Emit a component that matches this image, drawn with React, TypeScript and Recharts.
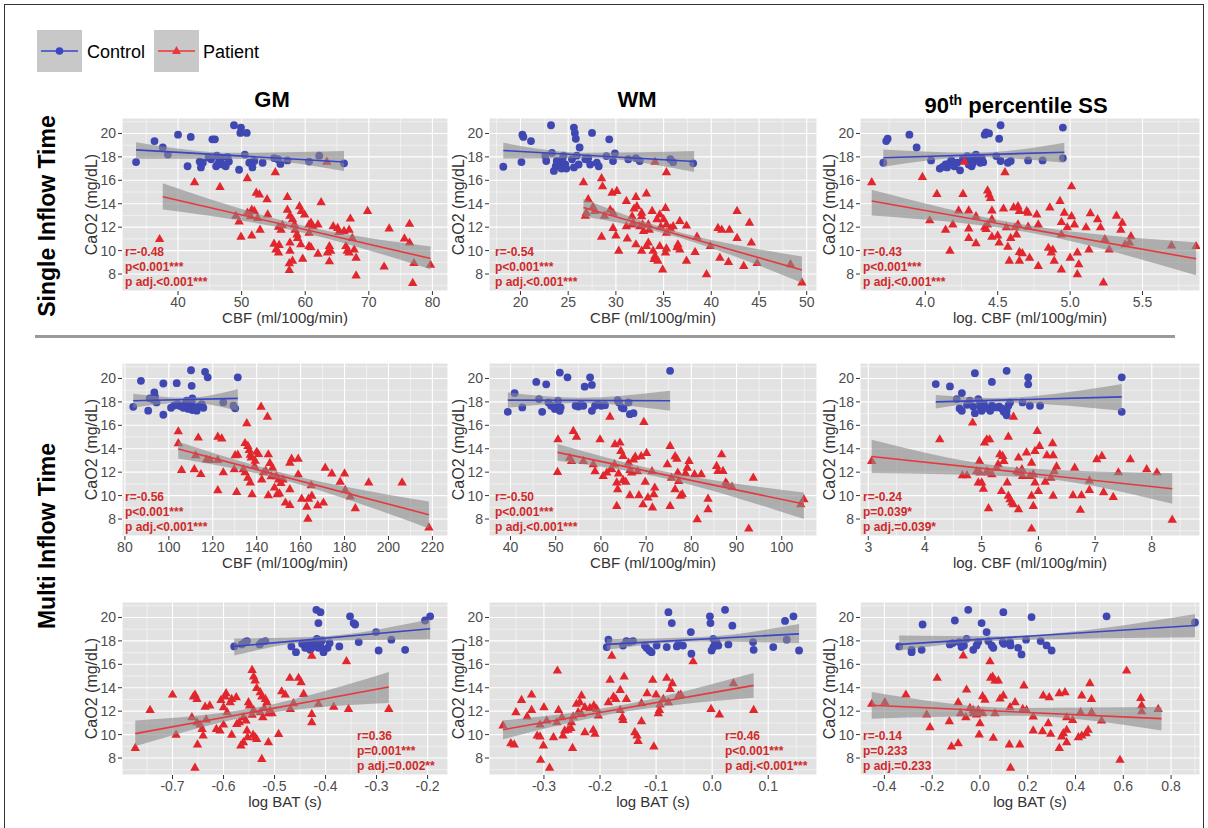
import { ComposedChart, Scatter, Line, Area, XAxis, YAxis, CartesianGrid, ReferenceLine } from 'recharts'

type Pt = [number, number]
type Band = [number, number, number]

const BLUE = '#3f47b3'
const RED = '#e2262d'
const BLUE_LINE = '#3a46c8'
const RED_LINE = '#e8383d'
const TXT_RED = '#cf2a2a'
const PANEL_BG = '#e2e2e2'
const PLOT_H = 173

const Y_DOMAIN: [number, number] = [6.55, 21.32]
const Y_TICKS = [8, 10, 12, 14, 16, 18, 20]
const Y_MINOR = [7, 9, 11, 13, 15, 17, 19, 21]

// ---- Single inflow time: GM
const gm1Ticks = [40, 50, 60, 70, 80]
const gm1Minor = [35, 45, 55, 65, 75]
const gm1Ctl: Pt[] = [[33.4,17.56],[36.3,19.35],[37.6,18.8],[38.4,18.2],[40.0,19.9],[42.0,19.7],[41.5,17.2],[43.4,17.6],[43.9,17.5],[43.6,17.1],[45.4,19.5],[45.8,19.5],[45.2,17.8],[46.1,18.1],[46.5,17.65],[46.0,17.2],[47.0,17.35],[47.5,17.2],[47.8,18.0],[48.8,20.7],[49.9,20.5],[49.8,20.05],[50.8,20.05],[49.6,16.9],[50.5,18.2],[51.2,17.5],[52.0,17.65],[51.7,17.1],[53.3,17.5],[55.1,17.9],[55.7,17.8],[56.1,17.4],[57.2,17.7],[60.6,17.6],[62.2,18.1],[66.1,17.45],[44.8,17.95],[46.8,17.9],[48.0,17.6],[46.3,17.4]]
const gm1Pat: Pt[] = [[37.1,11.0],[42.6,15.85],[46.6,15.45],[50.9,16.2],[55.3,16.7],[63.4,17.6],[52.3,14.95],[52.8,14.8],[54.0,14.4],[57.2,14.6],[62.5,14.15],[69.8,13.4],[49.1,13.0],[49.6,12.5],[50.9,13.25],[51.6,13.5],[52.0,13.4],[51.4,12.95],[52.5,12.8],[54.1,13.1],[55.8,12.05],[56.4,12.2],[56.2,11.8],[57.2,13.5],[57.6,13.0],[58.0,12.7],[58.3,12.25],[58.4,11.8],[58.7,11.4],[58.8,11.1],[59.1,13.8],[59.4,13.4],[59.9,13.1],[60.6,12.25],[60.9,12.4],[61.2,12.1],[62.0,12.25],[60.6,11.55],[64.4,12.1],[65.1,11.95],[65.3,11.6],[66.1,11.7],[66.9,11.8],[67.1,12.75],[67.4,11.1],[73.2,11.9],[75.6,11.05],[76.4,12.3],[76.4,10.7],[49.9,11.2],[51.6,11.3],[52.9,11.8],[55.1,10.6],[55.4,10.1],[55.8,9.85],[55.9,10.5],[57.6,10.0],[57.5,8.93],[58.0,9.15],[57.5,8.35],[57.6,10.7],[59.3,10.55],[59.6,9.33],[60.6,10.4],[60.9,10.3],[62.0,9.75],[63.8,10.4],[64.0,10.0],[63.5,9.85],[63.8,9.1],[66.4,10.4],[66.6,10.0],[66.9,9.85],[67.7,10.1],[68.0,9.4],[68.0,7.9],[72.4,8.65],[77.1,8.95],[76.9,7.25],[79.7,8.8]]
const gm1CtlFit: Pt[] = [[33.4, 18.6], [66.1, 17.56]]
const gm1CtlBand: Band[] = [[33.4, 17.84, 19.26], [49, 17.85, 18.35], [66.1, 16.8, 18.5]]
const gm1PatFit: Pt[] = [[37.6, 14.6], [79.7, 9.33]]
const gm1PatBand: Band[] = [[37.6, 13.5, 15.75], [58.5, 11.68, 12.28], [79.7, 8.4, 10.35]]
const gm1Stats = ['r=-0.48', 'p<0.001***', 'p adj.<0.001***']

// ---- Single inflow time: WM
const wm1Ticks = [20, 25, 30, 35, 40, 45, 50]
const wm1Minor = [17.5, 22.5, 27.5, 32.5, 37.5, 42.5, 47.5]
const wm1Ctl: Pt[] = [[18.2,17.16],[20.2,19.9],[20.3,19.7],[21.1,19.35],[20.1,17.56],[22.6,18.07],[22.7,17.65],[23.3,18.35],[23.2,20.7],[23.7,17.2],[23.8,17.65],[24.1,17.45],[24.4,17.8],[24.7,17.35],[24.5,18.1],[24.8,17.0],[23.5,16.8],[24.3,17.0],[25.4,17.8],[25.6,17.1],[25.9,18.1],[25.6,20.5],[25.7,20.05],[25.8,19.55],[26.2,18.8],[26.1,17.35],[26.8,17.8],[27.1,17.9],[27.3,17.35],[28.0,17.5],[28.2,17.2],[27.5,20.05],[29.0,18.07],[29.3,19.5],[29.7,17.65],[29.9,18.3],[31.3,17.8],[32.1,17.9],[32.5,17.65],[35.7,17.8],[36.0,17.55],[38.1,17.45]]
const wm1Pat: Pt[] = [[34.1,17.6],[35.3,16.7],[26.6,15.85],[28.5,16.2],[28.6,15.5],[29.6,14.95],[30.1,15.1],[27.1,14.4],[26.8,13.0],[26.9,13.25],[27.6,13.75],[27.8,13.4],[28.8,13.0],[29.4,13.5],[29.7,13.25],[28.5,11.2],[29.7,11.95],[30.0,11.3],[30.3,10.0],[31.1,14.25],[31.2,11.05],[31.1,12.1],[31.7,12.95],[31.9,13.6],[31.8,12.4],[31.7,12.25],[32.1,14.6],[32.2,13.8],[32.1,10.55],[32.7,13.25],[32.7,12.95],[32.8,12.25],[32.9,11.7],[32.5,12.1],[32.7,10.0],[33.2,14.9],[33.4,12.25],[33.5,11.8],[33.2,10.4],[33.4,10.7],[33.8,13.4],[33.9,10.0],[34.1,9.55],[34.0,9.3],[34.3,12.7],[34.6,13.1],[34.7,12.05],[34.6,10.4],[34.4,9.15],[34.9,8.4],[35.0,12.7],[35.3,12.25],[35.3,11.55],[35.2,13.65],[35.2,9.85],[35.3,10.2],[35.7,11.9],[36.0,12.1],[36.4,10.3],[36.5,10.55],[36.7,10.1],[36.7,12.55],[37.4,12.15],[37.4,9.15],[38.3,9.9],[38.5,11.2],[39.5,8.0],[39.9,10.4],[40.7,11.95],[41.1,11.8],[41.9,11.8],[40.9,9.4],[41.8,9.05],[42.7,13.4],[42.7,11.1],[43.4,8.7],[44.0,12.4],[44.2,10.7],[44.8,8.95],[48.3,8.85],[49.5,7.3]]
const wm1CtlFit: Pt[] = [[18.2, 18.55], [38.2, 17.6]]
const wm1CtlBand: Band[] = [[18.2, 17.85, 19.2], [27, 17.9, 18.35], [38.2, 16.7, 18.5]]
const wm1PatFit: Pt[] = [[26.6, 13.67], [49.5, 8.34]]
const wm1PatBand: Band[] = [[26.6, 12.9, 14.4], [34, 11.7, 12.2], [49.5, 7.25, 9.5]]
const wm1Stats = ['r=-0.54', 'p<0.001***', 'p adj.<0.001***']

// ---- Single inflow time: 90th percentile SS
const ss1Ticks = [4.0, 4.5, 5.0, 5.5]
const ss1Minor = [3.75, 4.25, 4.75, 5.25, 5.75]
const ss1Ctl: Pt[] = [[3.71,17.5],[3.73,19.35],[3.74,19.55],[3.89,19.9],[3.94,18.8],[4.04,17.7],[4.10,17.0],[4.12,17.15],[4.14,17.35],[4.15,17.1],[4.17,17.5],[4.18,17.7],[4.20,17.2],[4.22,17.5],[4.24,16.85],[4.26,17.85],[4.29,18.07],[4.30,17.35],[4.31,17.8],[4.32,17.2],[4.33,17.5],[4.34,18.07],[4.35,18.2],[4.37,17.8],[4.38,17.5],[4.39,17.9],[4.40,17.55],[4.41,19.9],[4.42,20.1],[4.44,20.0],[4.49,18.07],[4.51,19.55],[4.52,20.7],[4.52,17.65],[4.57,17.5],[4.59,17.65],[4.71,17.7],[4.81,17.7],[4.95,20.5],[4.95,17.9]]
const ss1Pat: Pt[] = [[3.63,15.85],[3.98,16.3],[4.08,14.85],[4.03,12.6],[4.14,11.8],[4.19,12.25],[4.17,10.0],[4.26,14.85],[4.23,13.45],[4.30,13.45],[4.30,11.9],[4.30,11.1],[4.27,17.6],[4.35,12.95],[4.35,10.65],[4.41,12.0],[4.42,11.85],[4.43,12.25],[4.43,15.15],[4.44,14.8],[4.45,14.5],[4.46,13.45],[4.46,12.7],[4.46,11.2],[4.50,11.3],[4.51,10.7],[4.54,13.6],[4.55,16.7],[4.56,12.0],[4.57,10.35],[4.59,11.1],[4.58,9.15],[4.61,13.7],[4.64,13.8],[4.65,13.4],[4.62,12.0],[4.63,11.4],[4.64,12.25],[4.65,9.9],[4.67,9.8],[4.65,9.15],[4.70,13.4],[4.71,13.25],[4.71,12.05],[4.72,9.4],[4.77,13.1],[4.78,12.25],[4.78,8.7],[4.86,13.7],[4.85,10.25],[4.87,9.85],[4.88,10.1],[4.89,9.15],[4.93,14.25],[4.94,12.45],[4.94,11.4],[4.94,8.4],[4.96,13.25],[4.98,12.0],[5.01,15.5],[5.01,12.95],[5.00,9.4],[5.03,12.25],[5.05,9.85],[5.06,8.85],[5.05,8.0],[5.11,12.0],[5.14,13.2],[5.13,10.1],[5.19,12.7],[5.21,12.0],[5.23,7.3],[5.24,11.0],[5.27,10.1],[5.32,13.0],[5.36,12.4],[5.35,11.8],[5.38,10.55],[5.41,10.7],[5.42,11.25],[5.70,10.45],[5.87,10.4]]
const ss1CtlFit: Pt[] = [[3.71, 17.93], [4.96, 18.4]]
const ss1CtlBand: Band[] = [[3.71, 17.16, 18.64], [4.35, 17.97, 18.37], [4.96, 17.5, 19.2]]
const ss1PatFit: Pt[] = [[3.63, 14.24], [5.87, 9.3]]
const ss1PatBand: Band[] = [[3.63, 13.0, 15.2], [4.7, 11.58, 12.18], [5.87, 7.9, 10.7]]
const ss1Stats = ['r=-0.43', 'p<0.001***', 'p adj.<0.001***']

// ---- Multi inflow time: GM
const gm2Ticks = [80, 100, 120, 140, 160, 180, 200, 220]
const gm2Minor = [90, 110, 130, 150, 170, 190, 210]
const gm2Ctl: Pt[] = [[83.8,17.58],[87.3,19.8],[90.6,17.25],[91.3,18.3],[92.9,18.2],[93.7,18.45],[94.4,17.95],[93.4,18.8],[97.5,19.57],[97.5,16.9],[101.0,17.5],[102.5,17.7],[104.0,17.8],[105.1,17.65],[103.6,19.6],[107.4,17.8],[108.1,17.5],[108.9,17.4],[109.6,17.7],[110.4,17.95],[110.7,17.3],[111.6,17.5],[112.7,17.25],[113.4,17.6],[110.1,20.7],[110.4,19.37],[110.7,18.3],[115.0,17.8],[115.7,17.5],[116.5,20.57],[117.7,20.1],[124.8,17.95],[129.4,17.67],[130.2,17.45],[131.4,20.1],[108.1,18.1],[106.6,17.5]]
const gm2Pat: Pt[] = [[104.3,15.5],[104.3,14.48],[105.8,12.2],[111.6,12.27],[112.2,13.46],[113.4,14.97],[114.6,11.85],[117.2,13.1],[118.8,13.06],[122.3,15.05],[124.1,14.9],[122.3,13.06],[122.3,10.47],[124.8,12.0],[130.2,13.46],[131.4,13.5],[129.8,12.27],[130.9,10.33],[133.9,12.27],[134.7,12.0],[134.7,14.5],[135.5,16.2],[136.0,14.25],[136.6,13.9],[137.1,13.5],[137.5,13.26],[136.0,11.55],[137.1,11.13],[137.9,10.13],[139.3,13.0],[139.0,12.55],[140.0,13.75],[140.8,13.56],[142.0,17.6],[143.1,12.0],[142.3,11.4],[144.1,12.15],[144.9,16.75],[145.3,13.54],[146.0,12.8],[146.6,11.67],[147.2,12.4],[145.3,10.05],[148.1,10.7],[149.3,10.13],[150.4,10.2],[149.0,11.67],[150.0,11.4],[151.0,11.1],[152.0,11.4],[153.1,9.42],[155.1,9.22],[155.1,10.56],[155.1,12.83],[155.9,13.17],[158.9,13.17],[158.9,11.83],[160.5,9.75],[162.8,9.07],[163.3,8.05],[163.6,9.75],[165.1,10.0],[164.8,10.9],[167.8,9.2],[170.4,9.42],[171.2,12.4],[174.2,11.9],[178.0,11.2],[180.0,11.9],[180.3,10.5],[182.6,9.93],[184.9,8.93],[191.0,11.13],[206.2,11.13],[218.4,7.29]]
const gm2CtlFit: Pt[] = [[83.8, 18.1], [131.4, 18.3]]
const gm2CtlBand: Band[] = [[83.8, 17.5, 18.7], [108, 17.95, 18.35], [131.4, 17.24, 19.1]]
const gm2PatFit: Pt[] = [[104.3, 13.97], [218.4, 8.37]]
const gm2PatBand: Band[] = [[104.3, 13.17, 14.6], [145, 11.68, 12.28], [218.4, 7.2, 9.5]]
const gm2Stats = ['r=-0.56', 'p<0.001***', 'p adj.<0.001***']

// ---- Multi inflow time: WM
const wm2Ticks = [40, 50, 60, 70, 80, 90, 100]
const wm2Minor = [45, 55, 65, 75, 85, 95, 105]
const wm2Ctl: Pt[] = [[39.4,17.15],[40.9,18.75],[42.6,17.53],[45.7,19.7],[46.3,18.24],[47.0,17.15],[47.9,19.5],[48.4,17.95],[49.0,17.67],[49.8,17.4],[50.4,17.6],[50.9,17.24],[51.1,17.53],[50.5,18.1],[50.9,20.5],[52.6,20.1],[54.4,17.67],[55.0,17.6],[55.6,17.8],[56.1,17.67],[56.4,19.3],[57.6,20.1],[58.0,19.45],[58.0,17.24],[58.7,17.67],[59.3,17.8],[60.1,17.67],[60.9,17.72],[63.7,18.15],[64.0,17.95],[64.6,17.53],[65.0,17.44],[66.1,17.95],[66.4,16.95],[67.2,17.04],[75.3,20.65]]
const wm2Pat: Pt[] = [[50.5,14.82],[50.4,12.03],[53.1,13.26],[53.5,12.97],[53.9,15.53],[54.6,15.05],[56.1,12.97],[58.3,12.7],[58.7,12.1],[59.8,14.82],[60.5,11.7],[61.3,11.98],[62.0,16.75],[62.2,12.3],[62.4,12.26],[63.0,12.7],[63.1,14.4],[63.5,11.13],[63.9,11.9],[63.7,10.56],[63.5,9.13],[64.2,14.54],[64.4,13.83],[64.9,13.4],[64.9,11.35],[65.5,11.2],[66.1,12.83],[66.4,12.2],[66.8,11.98],[66.4,10.05],[67.2,13.1],[67.6,13.34],[68.1,12.1],[68.4,10.05],[68.9,13.37],[69.3,9.27],[69.5,16.3],[69.8,11.2],[70.1,13.66],[70.4,9.85],[71.3,12.1],[71.7,10.13],[71.9,10.7],[71.4,9.0],[74.7,12.7],[75.3,14.25],[75.3,9.13],[75.6,11.55],[76.4,13.37],[76.8,13.17],[76.4,10.56],[77.0,11.98],[77.2,11.27],[77.6,10.0],[78.0,10.13],[78.7,11.93],[79.1,12.4],[79.5,12.97],[80.7,11.84],[81.3,8.0],[82.2,11.84],[83.7,9.75],[83.7,8.85],[85.6,12.55],[85.9,12.12],[86.7,13.54],[87.0,12.12],[87.6,11.13],[87.9,11.0],[89.0,10.78],[92.7,7.2],[93.7,11.55],[104.2,9.27],[104.9,9.7]]
const wm2CtlFit: Pt[] = [[39.4, 18.15], [75.3, 18.1]]
const wm2CtlBand: Band[] = [[39.4, 17.5, 18.8], [55, 17.9, 18.35], [75.3, 17.24, 18.95]]
const wm2PatFit: Pt[] = [[50.4, 13.69], [104.9, 9.28]]
const wm2PatBand: Band[] = [[50.4, 12.97, 14.4], [70, 11.8, 12.4], [104.9, 8.0, 10.27]]
const wm2Stats = ['r=-0.50', 'p<0.001***', 'p adj.<0.001***']

// ---- Multi inflow time: 90th percentile SS
const ss2Ticks = [3, 4, 5, 6, 7, 8]
const ss2Minor = [3.5, 4.5, 5.5, 6.5, 7.5, 8.5]
const ss2Ctl: Pt[] = [[4.19,19.52],[4.44,19.32],[4.56,18.24],[4.61,17.44],[4.65,18.75],[4.65,17.24],[4.74,17.75],[4.79,18.1],[4.85,17.6],[4.88,20.45],[4.88,17.04],[4.94,18.24],[4.97,17.95],[4.97,17.6],[5.0,17.24],[5.02,17.44],[5.04,17.8],[5.12,17.44],[5.15,17.24],[5.18,17.67],[5.25,17.53],[5.31,17.6],[5.35,17.44],[5.39,17.15],[5.44,17.24],[5.47,17.67],[5.18,19.7],[5.44,20.65],[5.44,16.85],[5.50,17.95],[5.72,17.95],[5.82,20.1],[5.82,19.5],[5.85,17.67],[6.03,17.67],[7.47,20.1],[7.47,17.15]]
const ss2Pat: Pt[] = [[3.06,12.97],[4.26,14.82],[4.66,11.75],[4.74,11.75],[4.84,16.25],[4.91,12.1],[4.94,11.13],[4.97,11.98],[4.96,12.97],[5.0,11.13],[5.03,10.6],[5.05,14.54],[5.09,14.82],[5.14,14.82],[5.09,12.1],[5.12,11.98],[5.18,11.84],[5.12,8.93],[5.26,12.4],[5.29,12.7],[5.32,13.54],[5.37,13.4],[5.35,10.4],[5.39,12.97],[5.45,11.13],[5.47,15.05],[5.47,10.0],[5.5,9.7],[5.53,9.42],[5.56,9.27],[5.56,16.75],[5.62,12.1],[5.66,11.98],[5.71,12.26],[5.72,11.7],[5.65,13.26],[5.65,8.85],[5.79,13.69],[5.85,11.7],[5.91,11.84],[5.94,13.83],[5.88,12.83],[5.88,10.0],[5.91,9.13],[5.88,7.2],[5.94,11.13],[5.98,15.53],[6.0,10.4],[6.02,14.25],[6.12,11.2],[6.15,13.46],[6.22,11.55],[6.25,14.48],[6.26,13.46],[6.28,12.1],[6.32,12.5],[6.26,10.0],[6.61,10.05],[6.64,12.4],[6.74,8.8],[6.76,10.05],[6.9,11.3],[6.9,10.5],[7.03,13.12],[7.12,13.4],[7.15,10.3],[7.32,9.9],[7.41,12.0],[7.62,13.12],[7.91,12.27],[8.09,12.0],[8.36,7.95]]
const ss2CtlFit: Pt[] = [[4.19, 18.0], [7.47, 18.43]]
const ss2CtlBand: Band[] = [[4.19, 17.44, 18.58], [5.2, 17.95, 18.33], [7.47, 17.24, 19.52]]
const ss2PatFit: Pt[] = [[3.06, 13.34], [8.36, 10.59]]
const ss2PatBand: Band[] = [[3.06, 11.92, 14.77], [5.7, 11.6, 12.35], [8.36, 9.3, 11.9]]
const ss2Stats = ['r=-0.24', 'p=0.039*', 'p adj.=0.039*']

// ---- Multi inflow time, BAT: GM
const gm3Ticks = [-0.7, -0.6, -0.5, -0.4, -0.3, -0.2]
const gm3Minor = [-0.75, -0.65, -0.55, -0.45, -0.35, -0.25]
const gm3Ctl: Pt[] = [[-0.579,17.53],[-0.564,17.7],[-0.558,17.9],[-0.554,17.98],[-0.529,17.7],[-0.525,17.9],[-0.518,17.98],[-0.467,17.53],[-0.458,17.04],[-0.446,17.75],[-0.44,17.41],[-0.437,17.53],[-0.433,17.81],[-0.43,17.24],[-0.425,17.47],[-0.422,17.9],[-0.417,18.18],[-0.414,17.41],[-0.41,17.53],[-0.407,18.04],[-0.418,20.65],[-0.41,20.45],[-0.414,19.52],[-0.404,17.04],[-0.396,17.41],[-0.392,17.81],[-0.373,17.53],[-0.352,20.1],[-0.345,19.52],[-0.342,19.4],[-0.335,17.9],[-0.301,18.75],[-0.296,17.18],[-0.271,18.1],[-0.244,17.24],[-0.205,19.74],[-0.195,20.1]]
const gm3Pat: Pt[] = [[-0.773,8.88],[-0.744,12.12],[-0.7,13.43],[-0.693,10.0],[-0.662,11.5],[-0.659,13.26],[-0.656,13.43],[-0.652,13.06],[-0.656,7.18],[-0.652,11.07],[-0.646,10.87],[-0.642,10.5],[-0.64,9.93],[-0.651,9.17],[-0.636,12.4],[-0.627,12.5],[-0.634,11.3],[-0.614,10.5],[-0.607,10.36],[-0.605,12.98],[-0.6,12.35],[-0.597,13.26],[-0.595,13.55],[-0.6,10.87],[-0.593,11.92],[-0.587,12.78],[-0.584,13.06],[-0.584,10.0],[-0.575,13.2],[-0.574,10.93],[-0.569,11.07],[-0.566,9.08],[-0.561,9.37],[-0.561,11.5],[-0.556,11.21],[-0.554,10.36],[-0.553,9.79],[-0.551,12.78],[-0.549,12.5],[-0.544,15.54],[-0.541,14.97],[-0.538,14.63],[-0.535,14.0],[-0.544,11.72],[-0.541,12.12],[-0.542,10.0],[-0.538,9.79],[-0.535,9.65],[-0.528,13.63],[-0.525,13.26],[-0.528,11.92],[-0.523,11.5],[-0.52,12.29],[-0.525,7.94],[-0.518,13.06],[-0.515,12.78],[-0.512,11.84],[-0.509,12.07],[-0.505,11.84],[-0.512,9.37],[-0.492,10.07],[-0.486,13.71],[-0.479,13.43],[-0.47,14.86],[-0.469,12.21],[-0.463,12.69],[-0.453,14.86],[-0.448,14.48],[-0.443,13.48],[-0.427,16.75],[-0.427,11.78],[-0.427,11.07],[-0.414,12.64],[-0.384,12.4],[-0.359,16.28],[-0.355,12.21],[-0.276,12.21]]
const gm3CtlFit: Pt[] = [[-0.579, 17.53], [-0.195, 19.03]]
const gm3CtlBand: Band[] = [[-0.579, 16.75, 18.2], [-0.42, 17.95, 18.35], [-0.195, 18.15, 19.85]]
const gm3PatFit: Pt[] = [[-0.773, 10.08], [-0.276, 14.06]]
const gm3PatBand: Band[] = [[-0.773, 9.0, 11.2], [-0.55, 11.55, 12.2], [-0.276, 12.7, 15.35]]
const gm3Stats = ['r=0.36', 'p=0.001***', 'p adj.=0.002**']

// ---- Multi inflow time, BAT: WM
const wm3Ticks = [-0.3, -0.2, -0.1, 0.0, 0.1]
const wm3Minor = [-0.35, -0.25, -0.15, -0.05, 0.05, 0.15]
const wm3Ctl: Pt[] = [[-0.188,17.47],[-0.185,18.1],[-0.159,17.6],[-0.153,17.98],[-0.147,17.9],[-0.141,17.98],[-0.12,17.6],[-0.117,17.41],[-0.112,17.18],[-0.108,17.04],[-0.099,17.6],[-0.078,20.45],[-0.072,19.52],[-0.081,17.47],[-0.063,17.53],[-0.06,17.75],[-0.052,17.6],[-0.038,18.75],[-0.037,16.9],[-0.004,20.1],[-0.003,19.52],[-0.001,17.18],[0.002,17.47],[0.005,17.75],[0.008,17.9],[0.011,17.6],[0.002,18.18],[0.023,20.65],[0.029,17.7],[0.036,19.3],[0.073,17.9],[0.074,17.24],[0.109,17.47],[0.13,19.7],[0.133,18.1],[0.145,20.1],[0.155,17.18]]
const wm3Pat: Pt[] = [[-0.373,10.79],[-0.359,9.28],[-0.353,9.17],[-0.35,11.93],[-0.34,12.98],[-0.33,11.56],[-0.322,13.43],[-0.322,12.12],[-0.312,9.93],[-0.307,9.85],[-0.307,10.87],[-0.306,7.86],[-0.301,9.08],[-0.3,12.35],[-0.295,11.21],[-0.29,7.18],[-0.283,9.79],[-0.277,11.07],[-0.276,15.48],[-0.274,12.12],[-0.268,11.5],[-0.266,9.93],[-0.263,10.36],[-0.257,10.42],[-0.252,10.59],[-0.251,11.07],[-0.248,11.56],[-0.249,8.88],[-0.242,12.64],[-0.236,12.78],[-0.233,13.35],[-0.239,11.93],[-0.233,11.78],[-0.227,12.35],[-0.227,10.22],[-0.218,12.29],[-0.211,12.5],[-0.206,12.21],[-0.212,10.42],[-0.209,10.08],[-0.203,11.64],[-0.185,12.78],[-0.182,14.69],[-0.179,16.75],[-0.176,13.26],[-0.172,13.06],[-0.164,12.12],[-0.16,11.5],[-0.159,11.27],[-0.157,14.97],[-0.164,13.83],[-0.153,13.06],[-0.138,10.22],[-0.134,9.93],[-0.132,9.46],[-0.126,11.16],[-0.126,12.69],[-0.116,13.55],[-0.106,14.69],[-0.104,9.0],[-0.1,13.43],[-0.096,11.84],[-0.094,12.12],[-0.093,12.58],[-0.087,13.06],[-0.081,14.86],[-0.075,13.9],[-0.071,14.4],[-0.078,12.78],[-0.06,13.35],[-0.056,13.43],[-0.034,16.27],[-0.002,12.21],[0.013,11.73],[0.038,14.4],[0.074,12.12]]
const wm3CtlFit: Pt[] = [[-0.188, 17.7], [0.155, 18.6]]
const wm3CtlBand: Band[] = [[-0.188, 17.25, 18.15], [-0.02, 17.95, 18.33], [0.155, 17.8, 19.45]]
const wm3PatFit: Pt[] = [[-0.373, 10.42], [0.074, 14.2]]
const wm3PatBand: Band[] = [[-0.373, 9.6, 11.2], [-0.18, 11.75, 12.35], [0.074, 13.15, 15.25]]
const wm3Stats = ['r=0.46', 'p<0.001***', 'p adj.<0.001***']

// ---- Multi inflow time, BAT: 90th percentile SS
const ss3Ticks = [-0.4, -0.2, 0.0, 0.2, 0.4, 0.6, 0.8]
const ss3Minor = [-0.5, -0.3, -0.1, 0.1, 0.3, 0.5, 0.7, 0.9]
const ss3Ctl: Pt[] = [[-0.338,17.53],[-0.286,17.24],[-0.286,17.04],[-0.24,19.4],[-0.244,17.24],[-0.126,17.7],[-0.114,17.81],[-0.105,19.74],[-0.087,17.9],[-0.077,17.47],[-0.067,17.61],[-0.056,18.18],[-0.049,20.65],[-0.028,17.24],[-0.014,17.61],[-0.007,17.9],[0.007,19.52],[0.028,18.75],[0.035,17.98],[0.049,17.61],[0.056,17.41],[0.095,17.9],[0.1,17.75],[0.098,20.45],[0.126,17.9],[0.128,17.61],[0.16,17.41],[0.174,16.84],[0.193,18.1],[0.216,20.03],[0.254,17.98],[0.279,17.61],[0.3,17.18],[0.53,20.1],[0.9,19.57]]
const ss3Pat: Pt[] = [[-0.453,12.64],[-0.398,12.78],[-0.31,13.43],[-0.223,11.73],[-0.209,10.65],[-0.179,14.86],[-0.128,11.16],[-0.119,9.0],[-0.091,12.78],[-0.091,9.28],[-0.081,11.84],[-0.07,16.76],[-0.059,11.5],[-0.056,13.86],[-0.042,12.29],[-0.028,11.84],[-0.014,11.73],[-0.028,12.12],[-0.007,12.12],[0.0,10.99],[-0.003,10.02],[0.011,13.29],[0.021,13.0],[0.011,11.84],[0.042,16.27],[0.045,14.86],[0.053,14.97],[0.063,14.63],[0.056,9.74],[0.063,11.84],[0.077,14.63],[0.084,13.09],[0.098,13.35],[0.123,9.17],[0.126,12.35],[0.128,7.18],[0.147,12.78],[0.167,9.17],[0.179,12.21],[0.195,12.12],[0.184,14.21],[0.223,11.56],[0.223,10.36],[0.262,10.3],[0.265,13.35],[0.286,10.99],[0.29,13.2],[0.296,10.08],[0.332,8.88],[0.332,13.55],[0.342,9.85],[0.349,10.13],[0.356,13.63],[0.363,11.5],[0.363,10.42],[0.363,9.37],[0.388,11.27],[0.412,9.79],[0.426,9.93],[0.421,11.93],[0.426,13.35],[0.444,10.13],[0.453,10.42],[0.46,14.4],[0.467,13.06],[0.467,11.93],[0.509,11.21],[0.586,7.86],[0.614,15.48],[0.673,13.14],[0.677,12.5],[0.677,12.0],[0.746,12.21]]
const ss3CtlFit: Pt[] = [[-0.338, 17.7], [0.9, 19.31]]
const ss3CtlBand: Band[] = [[-0.338, 17.18, 18.46], [0.05, 18.0, 18.4], [0.9, 18.3, 20.3]]
const ss3PatFit: Pt[] = [[-0.453, 12.5], [0.76, 11.36]]
const ss3PatBand: Band[] = [[-0.453, 11.36, 13.63], [0.15, 11.6, 12.28], [0.76, 10.35, 12.35]]
const ss3Stats = ['r=-0.14', 'p=0.233', 'p adj.=0.233']

const CBF = 'CBF (ml/100g/min)'
const LOG_CBF = 'log. CBF (ml/100g/min)'
const BAT = 'log BAT (s)'

interface PanelProps {
  left: number
  top: number
  width: number
  xDomain: [number, number]
  xTicks: number[]
  xMinor: number[]
  digits: number
  xLabel: string
  ctl: Pt[]
  pat: Pt[]
  ctlFit: Pt[]
  patFit: Pt[]
  ctlBand: Band[]
  patBand: Band[]
  stats: string[]
  statsLeft: number
}

const dot = (p: any) => <circle cx={p.cx} cy={p.cy} r={3.9} fill={BLUE} />
const tri = (p: any) => (
  <polygon
    points={`${p.cx},${p.cy - 5} ${p.cx - 4.7},${p.cy + 3.2} ${p.cx + 4.7},${p.cy + 3.2}`}
    fill={RED}
  />
)

function Panel(p: PanelProps) {
  // one row per band/fit vertex; the other series get nulls so they skip it
  const blank = { cb: [null, null], pb: [null, null], cf: null, pf: null }
  const rows = [
    ...p.ctlBand.map(([x, lo, hi]) => ({ ...blank, x, cb: [lo, hi] })),
    ...p.patBand.map(([x, lo, hi]) => ({ ...blank, x, pb: [lo, hi] })),
    ...p.ctlFit.map(([x, y]) => ({ ...blank, x, cf: y })),
    ...p.patFit.map(([x, y]) => ({ ...blank, x, pf: y })),
  ]
  const ctlPts = p.ctl.map(([x, y]) => ({ x, y }))
  const patPts = p.pat.map(([x, y]) => ({ x, y }))

  return (
    <>
      <div style={{ position: 'absolute', left: p.left - 60, top: p.top - 5 }}>
        <ComposedChart
          width={p.width + 65}
          height={PLOT_H + 50}
          data={rows}
          margin={{ top: 5, right: 5, bottom: 0, left: 0 }}
        >
          <CartesianGrid fill={PANEL_BG} stroke="#fff" strokeWidth={1.1} />
          {p.xMinor.map(v => (
            <ReferenceLine key={'x' + v} x={v} stroke="#fff" strokeWidth={0.5} zIndex={-90} />
          ))}
          {Y_MINOR.map(v => (
            <ReferenceLine key={'y' + v} y={v} stroke="#fff" strokeWidth={0.5} zIndex={-90} />
          ))}
          <XAxis
            type="number"
            dataKey="x"
            domain={p.xDomain}
            ticks={p.xTicks}
            interval={0}
            allowDataOverflow
            height={45}
            axisLine={false}
            tickSize={4}
            tickMargin={2}
            tickLine={{ stroke: '#333' }}
            tick={{ fontSize: 14, fill: '#4d4d4d' }}
            tickFormatter={(v: number) => v.toFixed(p.digits)}
            label={{ value: p.xLabel, position: 'insideBottom', offset: 13, fontSize: 15, fill: '#333' }}
          />
          <YAxis
            type="number"
            dataKey="y"
            domain={Y_DOMAIN}
            ticks={Y_TICKS}
            interval={0}
            allowDataOverflow
            width={60}
            axisLine={false}
            tickSize={4}
            tickMargin={2}
            tickLine={{ stroke: '#333' }}
            tick={{ fontSize: 14, fill: '#4d4d4d' }}
            label={{ value: 'CaO2 (mg/dL)', angle: -90, position: 'center', dx: -1, fontSize: 16, fill: '#333' }}
          />
          <Scatter data={ctlPts} shape={dot} isAnimationActive={false} zIndex={50} />
          <Scatter data={patPts} shape={tri} isAnimationActive={false} zIndex={50} />
          <Area dataKey="cb" type="monotone" connectNulls stroke="none" fill="#8a8a8a" fillOpacity={0.6} isAnimationActive={false} zIndex={100} />
          <Area dataKey="pb" type="monotone" connectNulls stroke="none" fill="#8a8a8a" fillOpacity={0.6} isAnimationActive={false} zIndex={100} />
          <Line dataKey="cf" type="linear" connectNulls stroke={BLUE_LINE} strokeWidth={1.6} dot={false} activeDot={false} isAnimationActive={false} zIndex={400} />
          <Line dataKey="pf" type="linear" connectNulls stroke={RED_LINE} strokeWidth={1.6} dot={false} activeDot={false} isAnimationActive={false} zIndex={400} />
        </ComposedChart>
      </div>
      <div
        style={{
          position: 'absolute',
          left: p.statsLeft,
          top: p.top + 127,
          color: TXT_RED,
          fontWeight: 'bold',
          fontSize: 12,
          lineHeight: '15px',
          whiteSpace: 'nowrap',
        }}
      >
        {p.stats.map(s => <div key={s}>{s}</div>)}
      </div>
    </>
  )
}

const COL_LEFT = [122, 489, 860]
const COL_W = [326, 328, 340]
const ROW_TOP = [118, 363, 602]

function Title({ x, children }: { x: number; children: any }) {
  return (
    <div style={{ position: 'absolute', left: x - 150, top: 88, width: 300, textAlign: 'center', fontSize: 22, fontWeight: 'bold', lineHeight: '24px' }}>
      {children}
    </div>
  )
}

function RowLabel({ cy, text }: { cy: number; text: string }) {
  return (
    <div style={{ position: 'absolute', left: 47 - 150, top: cy - 15, width: 300, height: 30, lineHeight: '30px', textAlign: 'center', fontSize: 23, fontWeight: 'bold', transform: 'rotate(-90deg)' }}>
      {text}
    </div>
  )
}

function LegendKey({ left, color, shape }: { left: number; color: string; shape: 'dot' | 'tri' }) {
  return (
    <svg style={{ position: 'absolute', left, top: 30 }} width={45} height={42}>
      <rect x={0} y={0} width={45} height={42} fill="#c8c8c8" />
      <line x1={4} x2={41} y1={21} y2={21} stroke={color} strokeWidth={1.6} />
      {shape === 'dot'
        ? <circle cx={22.5} cy={21} r={3.8} fill={color} />
        : <polygon points="22.5,16 18,24 27,24" fill={color} />}
    </svg>
  )
}

export default function App() {
  return (
    <div style={{ position: 'absolute', left: 0, top: 0, width: 1208, height: 828, background: '#fff', fontFamily: '"Liberation Sans", Arial, Helvetica, sans-serif', color: '#000', overflow: 'hidden' }}>
      <div style={{ position: 'absolute', left: 4, top: 4, width: 1198, height: 840, border: '1px solid #333' }} />

      <LegendKey left={37} color={BLUE_LINE} shape="dot" />
      <div style={{ position: 'absolute', left: 87, top: 43, fontSize: 18, lineHeight: '18px' }}>Control</div>
      <LegendKey left={154} color={RED_LINE} shape="tri" />
      <div style={{ position: 'absolute', left: 203, top: 43, fontSize: 18, lineHeight: '18px' }}>Patient</div>

      <Title x={272}>GM</Title>
      <Title x={637}>WM</Title>
      <Title x={1016}>90<sup style={{ fontSize: 14 }}>th</sup> percentile SS</Title>

      <RowLabel cy={216} text="Single Inflow Time" />
      <RowLabel cy={536} text="Multi Inflow Time" />

      <div style={{ position: 'absolute', left: 35, top: 335, width: 1140, height: 3, background: '#9a9a9a' }} />

      <Panel left={COL_LEFT[0]} top={ROW_TOP[0]} width={COL_W[0]} xDomain={[31.19, 82.45]} xTicks={gm1Ticks} xMinor={gm1Minor} digits={0} xLabel={CBF}
        ctl={gm1Ctl} pat={gm1Pat} ctlFit={gm1CtlFit} patFit={gm1PatFit} ctlBand={gm1CtlBand} patBand={gm1PatBand} stats={gm1Stats} statsLeft={125} />
      <Panel left={COL_LEFT[1]} top={ROW_TOP[0]} width={COL_W[1]} xDomain={[16.7, 51.08]} xTicks={wm1Ticks} xMinor={wm1Minor} digits={0} xLabel={CBF}
        ctl={wm1Ctl} pat={wm1Pat} ctlFit={wm1CtlFit} patFit={wm1PatFit} ctlBand={wm1CtlBand} patBand={wm1PatBand} stats={wm1Stats} statsLeft={495} />
      <Panel left={COL_LEFT[2]} top={ROW_TOP[0]} width={COL_W[2]} xDomain={[3.549, 5.897]} xTicks={ss1Ticks} xMinor={ss1Minor} digits={1} xLabel={LOG_CBF}
        ctl={ss1Ctl} pat={ss1Pat} ctlFit={ss1CtlFit} patFit={ss1PatFit} ctlBand={ss1CtlBand} patBand={ss1PatBand} stats={ss1Stats} statsLeft={863} />

      <Panel left={COL_LEFT[0]} top={ROW_TOP[1]} width={COL_W[0]} xDomain={[78.68, 227.1]} xTicks={gm2Ticks} xMinor={gm2Minor} digits={0} xLabel={CBF}
        ctl={gm2Ctl} pat={gm2Pat} ctlFit={gm2CtlFit} patFit={gm2PatFit} ctlBand={gm2CtlBand} patBand={gm2PatBand} stats={gm2Stats} statsLeft={125} />
      <Panel left={COL_LEFT[1]} top={ROW_TOP[1]} width={COL_W[1]} xDomain={[35.24, 107.8]} xTicks={wm2Ticks} xMinor={wm2Minor} digits={0} xLabel={CBF}
        ctl={wm2Ctl} pat={wm2Pat} ctlFit={wm2CtlFit} patFit={wm2PatFit} ctlBand={wm2CtlBand} patBand={wm2PatBand} stats={wm2Stats} statsLeft={495} />
      <Panel left={COL_LEFT[2]} top={ROW_TOP[1]} width={COL_W[2]} xDomain={[2.854, 8.85]} xTicks={ss2Ticks} xMinor={ss2Minor} digits={0} xLabel={LOG_CBF}
        ctl={ss2Ctl} pat={ss2Pat} ctlFit={ss2CtlFit} patFit={ss2PatFit} ctlBand={ss2CtlBand} patBand={ss2PatBand} stats={ss2Stats} statsLeft={863} />

      <Panel left={COL_LEFT[0]} top={ROW_TOP[2]} width={COL_W[0]} xDomain={[-0.799, -0.16]} xTicks={gm3Ticks} xMinor={gm3Minor} digits={1} xLabel={BAT}
        ctl={gm3Ctl} pat={gm3Pat} ctlFit={gm3CtlFit} patFit={gm3PatFit} ctlBand={gm3CtlBand} patBand={gm3PatBand} stats={gm3Stats} statsLeft={357} />
      <Panel left={COL_LEFT[1]} top={ROW_TOP[2]} width={COL_W[1]} xDomain={[-0.398, 0.187]} xTicks={wm3Ticks} xMinor={wm3Minor} digits={1} xLabel={BAT}
        ctl={wm3Ctl} pat={wm3Pat} ctlFit={wm3CtlFit} patFit={wm3PatFit} ctlBand={wm3CtlBand} patBand={wm3PatBand} stats={wm3Stats} statsLeft={725} />
      <Panel left={COL_LEFT[2]} top={ROW_TOP[2]} width={COL_W[2]} xDomain={[-0.502, 0.921]} xTicks={ss3Ticks} xMinor={ss3Minor} digits={1} xLabel={BAT}
        ctl={ss3Ctl} pat={ss3Pat} ctlFit={ss3CtlFit} patFit={ss3PatFit} ctlBand={ss3CtlBand} patBand={ss3PatBand} stats={ss3Stats} statsLeft={863} />
    </div>
  )
}
